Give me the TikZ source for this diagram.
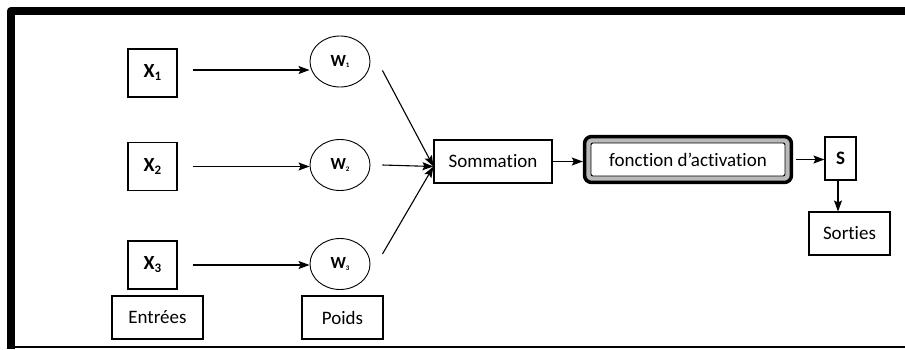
\documentclass[tikz,border=0pt]{standalone}
\usepackage{fontspec}
\setmainfont{Carlito}[Ligatures=NoCommon]
\usetikzlibrary{arrows.meta,shapes.geometric,fit,backgrounds}
\newcommand{\sousx}[1]{\raisebox{-3pt}{\fontsize{13}{13}\selectfont #1}}
\newcommand{\sousw}[1]{\raisebox{-1.5pt}{\fontsize{7}{7}\selectfont #1}}
\tikzset{
  boite/.style={draw, line width=1.1pt, minimum width=#1, minimum height=43pt, inner sep=0pt, font=\fontsize{19}{22}\selectfont},
  entree/.style={draw, line width=1.1pt, minimum width=49pt, minimum height=48pt, inner sep=0pt, font=\bfseries\fontsize{20}{22}\selectfont},
  poids/.style={draw, ellipse, line width=0.9pt, minimum width=60pt, minimum height=51pt, inner sep=0pt, font=\bfseries\fontsize{17}{18}\selectfont},
  fleche/.style={-{Stealth[length=11pt,width=8pt,inset=2pt]}, line width=1.1pt},
  cadre/.style={draw, line width=3.5pt, rounded corners=7pt, fill=gray!55, inner sep=6pt}
}
\begin{document}
\begin{tikzpicture}[x=1pt,y=-1pt]
    \useasboundingbox (0,0) rectangle (905,349);
    % Cadre
    \draw[line width=8pt, line join=round] (905,10.8) -- (10.8,10.8) -- (10.8,349);
    \draw[line width=1.5pt] (10.8,346.8) -- (905,346.8);
    % Entrees
    \node[entree] (x1) at (152.5,73) {X\sousx{1}};
    \node[entree] (x2) at (152.5,166.5) {X\sousx{2}};
    \node[entree] (x3) at (152.5,265) {X\sousx{3}};
    \node[boite=91pt] (entrees) at (157.5,317.5) {Entrées};
    % Poids
    \node[poids] (w1) at (340,61.5) {W\sousw{1}};
    \node[poids] (w2) at (340,165) {W\sousw{2}};
    \node[poids] (w3) at (340,264) {W\sousw{3}};
    \node[boite=81pt] (poids) at (342.5,317.5) {Poids};
    % Sommation et activation
    \node[boite=118pt] (som) at (493,161.5) {Sommation};
    \node[draw, fill=white, line width=0.9pt, rounded corners=2pt, minimum width=194pt, minimum height=33pt, inner sep=0pt, font=\fontsize{19}{22}\selectfont] (act) at (688,159.5) {fonction d’activation};
    \begin{scope}[on background layer]
        \node[cadre, fit=(act)] (cadreact) {};
    \end{scope}
    % Sortie
    \node[boite=31pt, font=\bfseries\fontsize{19}{22}\selectfont] (s) at (840.5,158.5) {S};
    \node[boite=81pt] (sorties) at (849.5,233.5) {Sorties};
    % Fleches
    \draw[fleche] ([shift={(15pt,3pt)}]x1.east) -- ([yshift=3pt]x1.east -| w1.west);
    \draw[fleche] ([xshift=15pt]x2.east) -- (x2.east -| w2.west);
    \draw[fleche] ([xshift=15pt]x3.east) -- (x3.east -| w3.west);
    \coordinate (pt) at ([yshift=-5pt]som.west);
    \draw[fleche] ([shift={(12pt,-9pt)}]w1.east) -- (pt);
    \draw[fleche] ([xshift=12pt]w2.east) -- (pt);
    \draw[fleche] ([shift={(12pt,10pt)}]w3.east) -- (pt);
    \draw[fleche] (som.east) -- (som.east -| cadreact.west);
    \draw[fleche] ([xshift=3pt]cadreact.east) -- (cadreact.east -| s.west);
    \draw[fleche] ([xshift=-2.5pt]s.south) -- ([xshift=-2.5pt]s.south |- sorties.north);
\end{tikzpicture}
\end{document}
